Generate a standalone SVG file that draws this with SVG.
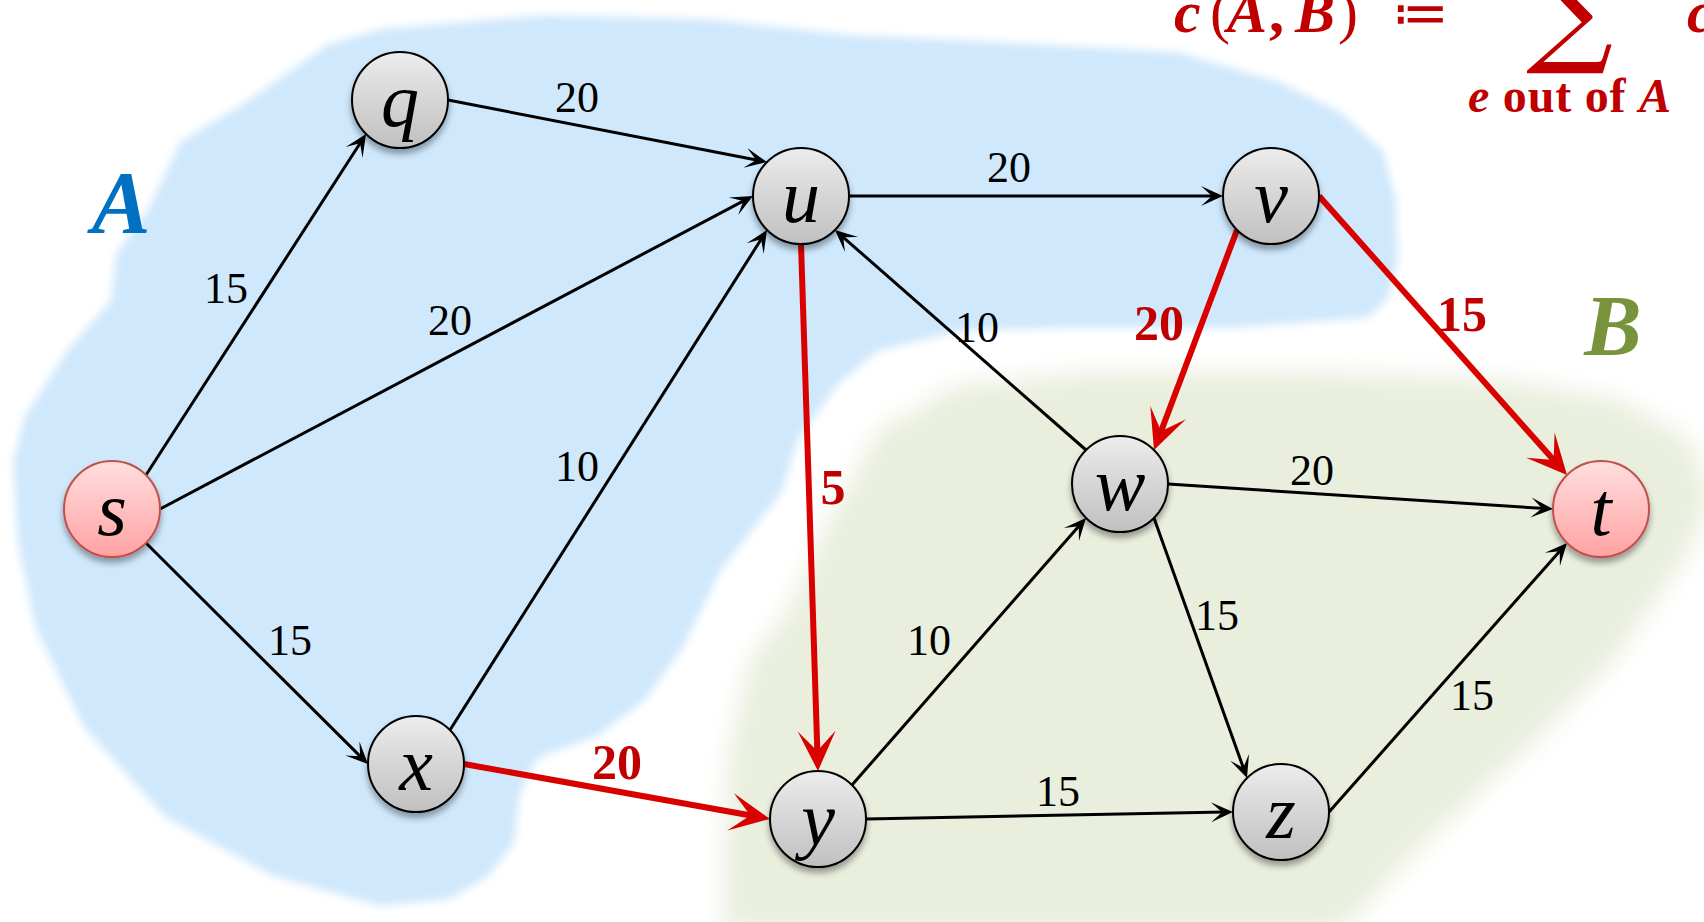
<svg xmlns="http://www.w3.org/2000/svg" width="1704" height="922" viewBox="0 0 1704 922">
<defs>
  <linearGradient id="gGray" x1="0" y1="0" x2="0" y2="1">
    <stop offset="0" stop-color="#ECECEC"/>
    <stop offset="1" stop-color="#C0C0C0"/>
  </linearGradient>
  <linearGradient id="gPink" x1="0" y1="0" x2="0" y2="1">
    <stop offset="0" stop-color="#FFDEDE"/>
    <stop offset="1" stop-color="#FFA2A2"/>
  </linearGradient>
  <filter id="blurA" filterUnits="userSpaceOnUse" x="-50" y="-50" width="1800" height="1050">
    <feGaussianBlur stdDeviation="4"/>
  </filter>
  <filter id="blurB" filterUnits="userSpaceOnUse" x="-50" y="-50" width="1800" height="1050">
    <feGaussianBlur stdDeviation="12"/>
  </filter>
  <filter id="sh" x="-30%" y="-30%" width="160%" height="170%">
    <feDropShadow dx="0" dy="5" stdDeviation="3" flood-color="#000" flood-opacity="0.35"/>
  </filter>
  <marker id="ab" markerUnits="userSpaceOnUse" viewBox="-16 -12 26 24" refX="0" refY="0" markerWidth="26" markerHeight="24" orient="auto">
    <path d="M8,0 L-14,-10 L-3,0 L-14,10 Z" fill="#000"/>
  </marker>
  <marker id="ar" markerUnits="userSpaceOnUse" viewBox="-28 -22 46 44" refX="0" refY="0" markerWidth="46" markerHeight="44" orient="auto">
    <path d="M15,0 L-25,-19 L-5,0 L-25,19 Z" fill="#D90000"/>
  </marker>
</defs>
<style>
  .edge { stroke:#000; stroke-width:3; fill:none; marker-end:url(#ab); }
  .red { stroke:#D90000; stroke-width:6; fill:none; marker-end:url(#ar); }
  .nd { stroke:#000; stroke-width:2; fill:url(#gGray); filter:url(#sh); }
  .nd.pk { fill:url(#gPink); stroke:#C0504D; }
  .nl { font-family:'Liberation Serif',serif; font-style:italic; font-size:76px; text-anchor:middle; fill:#000; }
  .lbl { font-family:'Liberation Serif',serif; font-size:44px; text-anchor:middle; fill:#000; }
  .rl { font-family:'Liberation Serif',serif; font-weight:bold; font-size:50px; text-anchor:middle; fill:#C00000; }
  .fm { font-family:'Liberation Serif',serif; fill:#C00000; }
</style>

<g id="regions">
  <path id="regionA" filter="url(#blurA)" fill="#CFE8FC" stroke="#FFFFFF" stroke-width="4" stroke-linejoin="round"
    d="M11,461 L22,417 L65,350 L109,300 L114,253 L147,207 L179,140 L245,100 L326,43 L380,27 L543,13 L707,17 L852,33 L1000,40 L1178,50 L1280,80 L1341,110 L1385,150 L1398,200 L1400,260 L1390,300 L1368,320 L1232,330 L1069,330 L961,333 L879,353 L840,385 L800,440 L783,494 L723,571 L685,648 L647,701 L598,738 L554,754 L538,761 L522,794 L516,844 L489,878 L451,901 L380,908 L272,878 L163,818 L82,728 L33,628 L16,544 Z"/>
  <path id="regionB" filter="url(#blurB)" fill="#E9EEDD"
    d="M723,930 L728,761 L750,661 L788,611 L830,520 L880,430 L960,385 L1100,372 L1300,372 L1500,380 L1620,400 L1690,440 L1710,500 L1683,561 L1613,661 L1531,744 L1423,844 L1341,930 Z"/>
</g>

<g id="setLabels">
  <text x="121" y="232" text-anchor="middle" font-family="'Liberation Serif',serif" font-weight="bold" font-style="italic" font-size="88" fill="#0070C0">A</text>
  <text x="1613" y="355" text-anchor="middle" font-family="'Liberation Serif',serif" font-weight="bold" font-style="italic" font-size="86" fill="#77933C">B</text>
</g>

<g id="formula" class="fm">
  <text y="32" font-size="60"><tspan x="1174" font-weight="bold" font-style="italic">c</tspan><tspan x="1210">(</tspan><tspan x="1227" font-weight="bold" font-style="italic">A</tspan><tspan x="1269" font-weight="bold">,</tspan><tspan x="1295" font-weight="bold" font-style="italic">B</tspan><tspan x="1338">)</tspan></text>
  <text x="1392" y="32" font-size="56" font-family="'DejaVu Sans',sans-serif">≔</text>
  <text x="1526" y="50" font-size="122" font-family="'DejaVu Serif',serif">∑</text>
  <text x="1468" y="112" font-size="48" font-weight="bold" textLength="203"><tspan font-style="italic">e</tspan> out of <tspan font-style="italic">A</tspan></text>
  <text x="1687" y="32" font-size="60" font-weight="bold" font-style="italic">c</text>
</g>

<g id="connectors">
  <line class="edge" x1="146" y1="475" x2="361.7" y2="140.7"/>
  <line class="edge" x1="160" y1="509" x2="745.9" y2="199.7"/>
  <line class="edge" x1="146" y1="543" x2="362.3" y2="758.4"/>
  <line class="edge" x1="448" y1="100" x2="759.1" y2="160.5"/>
  <line class="edge" x1="450" y1="730" x2="762.7" y2="236.8"/>
  <line class="edge" x1="849" y1="196" x2="1215" y2="196"/>
  <line class="edge" x1="1086" y1="450" x2="841.0" y2="235.3"/>
  <line class="edge" x1="1168" y1="484" x2="1545.0" y2="508.5"/>
  <line class="edge" x1="1154" y1="518" x2="1244.3" y2="770.5"/>
  <line class="edge" x1="852" y1="785" x2="1080.7" y2="524.0"/>
  <line class="edge" x1="866" y1="819" x2="1225" y2="812.1"/>
  <line class="edge" x1="1329" y1="812" x2="1561.7" y2="549.0"/>
  <line class="red" x1="801" y1="244" x2="817.5" y2="756"/>
  <line class="red" x1="464" y1="764" x2="755.2" y2="816.3"/>
  <line class="red" x1="1237" y1="230" x2="1159.3" y2="436"/>
  <line class="red" x1="1319" y1="196" x2="1557" y2="463.8"/>
  <text class="lbl" x="226" y="303">15</text>
  <text class="lbl" x="577" y="112">20</text>
  <text class="lbl" x="450" y="335">20</text>
  <text class="lbl" x="577" y="481">10</text>
  <text class="lbl" x="290" y="655">15</text>
  <text class="lbl" x="1009" y="182">20</text>
  <text class="lbl" x="977" y="342">10</text>
  <text class="lbl" x="1312" y="485">20</text>
  <text class="lbl" x="929" y="655">10</text>
  <text class="lbl" x="1217" y="630">15</text>
  <text class="lbl" x="1058" y="806">15</text>
  <text class="lbl" x="1472" y="710">15</text>
  <text class="rl" x="1159" y="340">20</text>
  <text class="rl" x="1462" y="331">15</text>
  <text class="rl" x="833" y="504">5</text>
  <text class="rl" x="617" y="779">20</text>
</g>

<g id="node-s"><circle class="nd pk" cx="112" cy="509" r="48"/><text class="nl" x="112" y="535">s</text></g>
<g id="node-q"><circle class="nd" cx="400" cy="100" r="48"/><text class="nl" x="400" y="126">q</text></g>
<g id="node-u"><circle class="nd" cx="801" cy="196" r="48"/><text class="nl" x="801" y="222">u</text></g>
<g id="node-v"><circle class="nd" cx="1271" cy="196" r="48"/><text class="nl" x="1271" y="222">v</text></g>
<g id="node-w"><circle class="nd" cx="1120" cy="484" r="48"/><text class="nl" x="1120" y="510">w</text></g>
<g id="node-t"><circle class="nd pk" cx="1601" cy="509" r="48"/><text class="nl" x="1601" y="535">t</text></g>
<g id="node-x"><circle class="nd" cx="416" cy="764" r="48"/><text class="nl" x="416" y="790">x</text></g>
<g id="node-y"><circle class="nd" cx="818" cy="819" r="48"/><text class="nl" x="818" y="845">y</text></g>
<g id="node-z"><circle class="nd" cx="1281" cy="812" r="48"/><text class="nl" x="1281" y="838">z</text></g>
</svg>
